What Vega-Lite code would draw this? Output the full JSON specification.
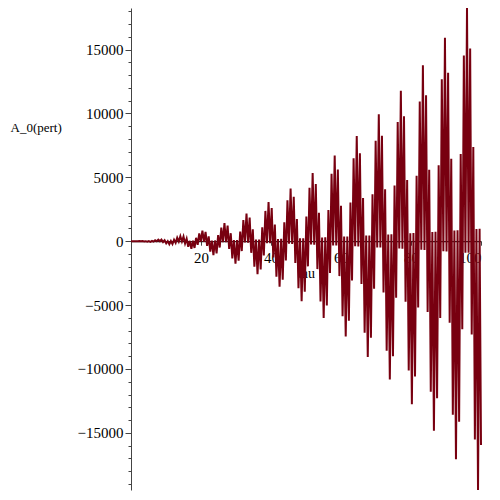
{
  "$schema": "https://vega.github.io/schema/vega-lite/v6.json",
  "width": 350,
  "height": 482,
  "autosize": {"type": "none"},
  "padding": {"left": 131, "top": 8, "right": 19, "bottom": 10},
  "background": "white",
  "config": {"view": {"stroke": null}, "font": "Liberation Serif"},
  "data": {"values": [
    {"t":0,"y":0},{"t":0.15,"y":0},{"t":0.6,"y":1},{"t":1.05,"y":0},
    {"t":1.5,"y":4},{"t":1.95,"y":0},{"t":2.4,"y":9},{"t":2.85,"y":-6},{"t":3.3,"y":8},{"t":3.75,"y":-23},{"t":4.2,"y":2},{"t":4.65,"y":-43},{"t":5.1,"y":3},{"t":5.55,"y":-50},{"t":6.0,"y":28},{"t":6.45,"y":-32},{"t":6.9,"y":77},{"t":7.35,"y":-5},
    {"t":7.8,"y":120},{"t":8.25,"y":-7},{"t":8.7,"y":122},{"t":9.15,"y":-64},{"t":9.6,"y":71},{"t":10.05,"y":-162},{"t":10.5,"y":11},{"t":10.95,"y":-237},{"t":11.4,"y":13},{"t":11.85,"y":-226},{"t":12.3,"y":117},{"t":12.75,"y":-125},{"t":13.2,"y":280},{"t":13.65,"y":-18},
    {"t":14.1,"y":394},{"t":14.55,"y":-21},{"t":15.0,"y":362},{"t":15.45,"y":-184},{"t":15.9,"y":195},{"t":16.35,"y":-430},{"t":16.8,"y":28},{"t":17.25,"y":-589},{"t":17.7,"y":31},{"t":18.15,"y":-529},{"t":18.6,"y":266},{"t":19.05,"y":-279},{"t":19.5,"y":611},{"t":19.95,"y":-39},
    {"t":20.4,"y":824},{"t":20.85,"y":-43},{"t":21.3,"y":729},{"t":21.75,"y":-364},{"t":22.2,"y":380},{"t":22.65,"y":-824},{"t":23.1,"y":52},{"t":23.55,"y":-1098},{"t":24.0,"y":56},{"t":24.45,"y":-961},{"t":24.9,"y":477},{"t":25.35,"y":-495},{"t":25.8,"y":1070},{"t":26.25,"y":-68},
    {"t":26.7,"y":1412},{"t":27.15,"y":-72},{"t":27.6,"y":1224},{"t":28.05,"y":-606},{"t":28.5,"y":625},{"t":28.95,"y":-1347},{"t":29.4,"y":85},{"t":29.85,"y":-1764},{"t":30.3,"y":90},{"t":30.75,"y":-1520},{"t":31.2,"y":750},{"t":31.65,"y":-771},{"t":32.1,"y":1656},{"t":32.55,"y":-104},
    {"t":33.0,"y":2156},{"t":33.45,"y":-110},{"t":33.9,"y":1847},{"t":34.35,"y":-909},{"t":34.8,"y":933},{"t":35.25,"y":-1997},{"t":35.7,"y":125},{"t":36.15,"y":-2588},{"t":36.6,"y":131},{"t":37.05,"y":-2206},{"t":37.5,"y":1083},{"t":37.95,"y":-1109},{"t":38.4,"y":2370},{"t":38.85,"y":-148},
    {"t":39.3,"y":3058},{"t":39.75,"y":-155},{"t":40.2,"y":2597},{"t":40.65,"y":-1272},{"t":41.1,"y":1301},{"t":41.55,"y":-2774},{"t":42.0,"y":173},{"t":42.45,"y":-3568},{"t":42.9,"y":180},{"t":43.35,"y":-3020},{"t":43.8,"y":1477},{"t":44.25,"y":-1508},{"t":44.7,"y":3211},{"t":45.15,"y":-200},
    {"t":45.6,"y":4117},{"t":46.05,"y":-208},{"t":46.5,"y":3475},{"t":46.95,"y":-1697},{"t":47.4,"y":1730},{"t":47.85,"y":-3679},{"t":48.3,"y":229},{"t":48.75,"y":-4706},{"t":49.2,"y":237},{"t":49.65,"y":-3961},{"t":50.1,"y":1933},{"t":50.55,"y":-1968},{"t":51.0,"y":4180},{"t":51.45,"y":-259},
    {"t":51.9,"y":5333},{"t":52.35,"y":-269},{"t":52.8,"y":4480},{"t":53.25,"y":-2183},{"t":53.7,"y":2220},{"t":54.15,"y":-4712},{"t":54.6,"y":292},{"t":55.05,"y":-6000},{"t":55.5,"y":302},{"t":55.95,"y":-5031},{"t":56.4,"y":2449},{"t":56.85,"y":-2489},{"t":57.3,"y":5276},{"t":57.75,"y":-327},
    {"t":58.2,"y":6707},{"t":58.65,"y":-337},{"t":59.1,"y":5613},{"t":59.55,"y":-2731},{"t":60.0,"y":2772},{"t":60.45,"y":-5872},{"t":60.9,"y":364},{"t":61.35,"y":-7452},{"t":61.8,"y":374},{"t":62.25,"y":-6227},{"t":62.7,"y":3027},{"t":63.15,"y":-3071},{"t":63.6,"y":6500},{"t":64.05,"y":-402},
    {"t":64.5,"y":8237},{"t":64.95,"y":-413},{"t":65.4,"y":6873},{"t":65.85,"y":-3339},{"t":66.3,"y":3385},{"t":66.75,"y":-7160},{"t":67.2,"y":443},{"t":67.65,"y":-9062},{"t":68.1,"y":455},{"t":68.55,"y":-7552},{"t":69.0,"y":3666},{"t":69.45,"y":-3714},{"t":69.9,"y":7852},{"t":70.35,"y":-485},
    {"t":70.8,"y":9925},{"t":71.25,"y":-498},{"t":71.7,"y":8261},{"t":72.15,"y":-4008},{"t":72.6,"y":4059},{"t":73.05,"y":-8575},{"t":73.5,"y":529},{"t":73.95,"y":-10828},{"t":74.4,"y":543},{"t":74.85,"y":-9003},{"t":75.3,"y":4366},{"t":75.75,"y":-4418},{"t":76.2,"y":9331},{"t":76.65,"y":-576},
    {"t":77.1,"y":11770},{"t":77.55,"y":-589},{"t":78.0,"y":9777},{"t":78.45,"y":-4739},{"t":78.9,"y":4793},{"t":79.35,"y":-10118},{"t":79.8,"y":624},{"t":80.25,"y":-12751},{"t":80.7,"y":638},{"t":81.15,"y":-10583},{"t":81.6,"y":5127},{"t":82.05,"y":-5184},{"t":82.5,"y":10938},{"t":82.95,"y":-674},
    {"t":83.4,"y":13772},{"t":83.85,"y":-689},{"t":84.3,"y":11420},{"t":84.75,"y":-5531},{"t":85.2,"y":5590},{"t":85.65,"y":-11789},{"t":86.1,"y":727},{"t":86.55,"y":-14832},{"t":87.0,"y":742},{"t":87.45,"y":-12290},{"t":87.9,"y":5949},{"t":88.35,"y":-6010},{"t":88.8,"y":12672},{"t":89.25,"y":-781},
    {"t":89.7,"y":15931},{"t":90.15,"y":-796},{"t":90.6,"y":13191},{"t":91.05,"y":-6383},{"t":91.5,"y":6447},{"t":91.95,"y":-13587},{"t":92.4,"y":837},{"t":92.85,"y":-17070},{"t":93.3,"y":853},{"t":93.75,"y":-14124},{"t":94.2,"y":6833},{"t":94.65,"y":-6898},{"t":95.1,"y":14534},{"t":95.55,"y":-895},
    {"t":96.0,"y":18248},{"t":96.45,"y":-912},{"t":96.9,"y":15089},{"t":97.35,"y":-7297},{"t":97.8,"y":7365},{"t":98.25,"y":-15513},{"t":98.7,"y":955},{"t":99.15,"y":-19465},{"t":99.6,"y":972},{"t":100.0,"y":-15950}
  ]},
  "layer": [
    {
      "mark": {"type": "point", "opacity": 0},
      "encoding": {
        "x": {"field": "t", "type": "quantitative", "scale": {"domain": [0, 100], "nice": false, "zero": false}, "axis": null},
        "y": {"field": "y", "type": "quantitative", "scale": {"domain": [-19470, 18250], "nice": false, "zero": false},
          "axis": {"orient": "left", "values": [-19000,-18000,-17000,-16000,-14000,-13000,-12000,-11000,-9000,-8000,-7000,-6000,-4000,-3000,-2000,-1000,1000,2000,3000,4000,6000,7000,8000,9000,11000,12000,13000,14000,16000,17000,18000],
            "labels": false, "domain": false, "grid": false, "tickSize": 3, "tickColor": "#444444", "tickWidth": 1, "title": null}}
      }
    },
    {
      "mark": {"type": "line", "color": "#780010", "strokeWidth": 2, "interpolate": "linear"},
      "encoding": {
        "x": {"field": "t", "type": "quantitative", "scale": {"domain": [0, 100], "nice": false, "zero": false},
          "axis": {"orient": "bottom", "offset": -248.8, "values": [20, 40, 60, 80, 100], "format": "d", "grid": false,
            "domainColor": "#222222", "domainWidth": 1.2, "tickColor": "#444444", "tickSize": 4, "labelPadding": 5,
            "labelFont": "Liberation Serif", "labelFontSize": 15, "labelColor": "black",
            "title": "tau", "titleFont": "Liberation Serif", "titleFontSize": 14, "titleFontWeight": "normal", "titleColor": "black", "titlePadding": 1}},
        "y": {"field": "y", "type": "quantitative", "scale": {"domain": [-19470, 18250], "nice": false, "zero": false},
          "axis": {"orient": "left", "values": [-15000, -10000, -5000, 0, 5000, 10000, 15000], "format": "d", "grid": false,
            "domainColor": "#444444", "domainWidth": 1, "tickColor": "#444444", "tickSize": 6, "labelPadding": 2,
            "labelFont": "Liberation Serif", "labelFontSize": 15, "labelColor": "black",
            "title": "A_0(pert)", "titleFont": "Liberation Serif", "titleFontSize": 13, "titleFontWeight": "normal", "titleColor": "black",
            "titleAngle": 0, "titleX": -121, "titleY": 119, "titleAlign": "left", "titleBaseline": "middle"}}
      }
    }
  ],
  "resolve": {"axis": {"x": "independent", "y": "independent"}}
}
